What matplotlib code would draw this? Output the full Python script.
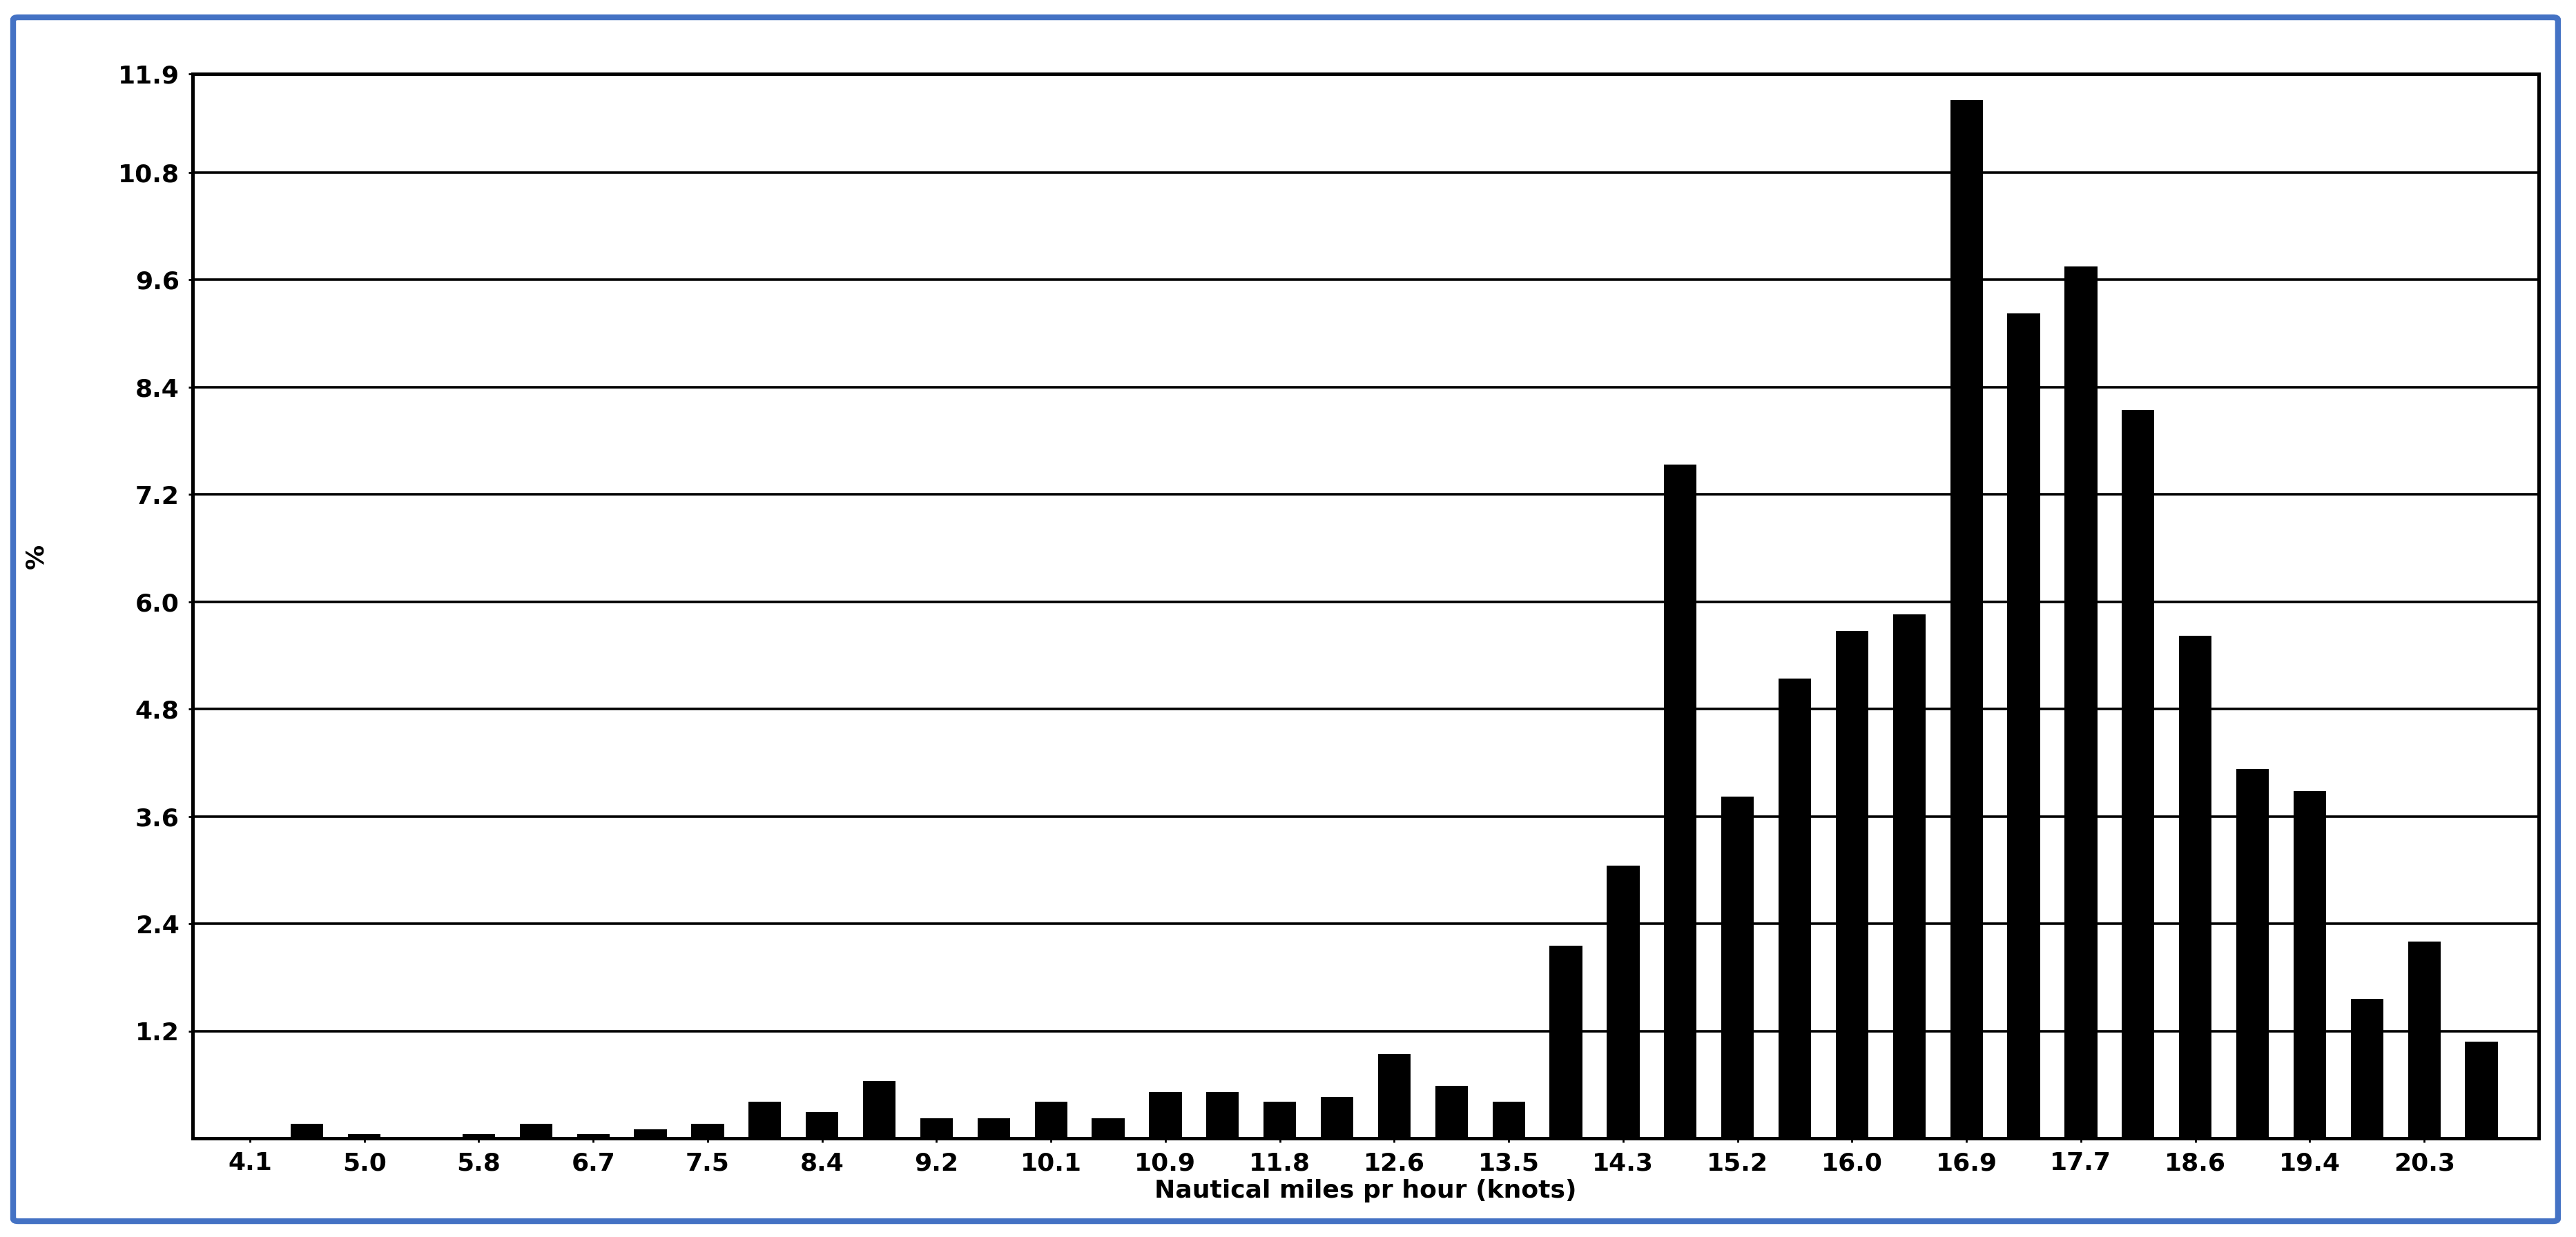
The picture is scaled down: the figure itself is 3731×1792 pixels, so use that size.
import numpy as np
import matplotlib
matplotlib.use("Agg")
from matplotlib import pyplot as plt
from matplotlib.patches import FancyBboxPatch

# Fordeling av fart (knop) i prosent
tick_labels = ['4.1', '5.0', '5.8', '6.7', '7.5', '8.4', '9.2', '10.1', '10.9', '11.8',
               '12.6', '13.5', '14.3', '15.2', '16.0', '16.9', '17.7', '18.6', '19.4', '20.3']
percent = [0.0, 0.16, 0.045, 0.0, 0.045, 0.16, 0.045, 0.10, 0.16, 0.41,
           0.29, 0.64, 0.22, 0.22, 0.41, 0.22, 0.52, 0.52, 0.41, 0.46,
           0.94, 0.59, 0.41, 2.15, 3.05, 7.53, 3.82, 5.14, 5.67, 5.86,
           11.61, 9.22, 9.75, 8.14, 5.62, 4.13, 3.88, 1.56, 2.20, 1.08]
y_ticks = [1.2, 2.4, 3.6, 4.8, 6.0, 7.2, 8.4, 9.6, 10.8, 11.9]

fig = plt.figure(figsize=(37.31, 17.92), dpi=100)
ax = fig.add_axes([0.0748, 0.0798, 0.9107, 0.8605])

x = np.arange(len(percent))
ax.bar(x, percent, width=0.57, color='black', zorder=3)

ax.set_xlim(-1.0, len(percent))
ax.set_ylim(0, 11.9)
ax.set_xticks(x[::2])
ax.set_xticklabels(tick_labels)
ax.set_yticks(y_ticks)
ax.set_yticklabels([f"{v:.1f}" for v in y_ticks])

ax.yaxis.grid(True, color='black', linewidth=2.6, zorder=1)
ax.set_axisbelow(True)
for s in ax.spines.values():
    s.set_linewidth(3.6)
    s.set_zorder(4)

ax.tick_params(axis='both', length=4, width=2, labelsize=26, pad=10)
for lbl in ax.get_xticklabels() + ax.get_yticklabels():
    lbl.set_fontweight('bold')

ax.set_xlabel('Nautical miles pr hour (knots)', fontsize=26, fontweight='bold', labelpad=4)
fig.text(0.014, 0.55, '%', rotation=90, fontsize=26, fontweight='bold', va='center', ha='center')

# blå ramme rundt hele figuren
ramme = FancyBboxPatch((0.0051, 0.0128), 0.9879, 0.9732, boxstyle="round,pad=0,rounding_size=0.002",
                       transform=fig.transFigure, fill=False, edgecolor='#4472C4', linewidth=6)
fig.patches.append(ramme)

fig.savefig('out.png', dpi=100, facecolor='white')
